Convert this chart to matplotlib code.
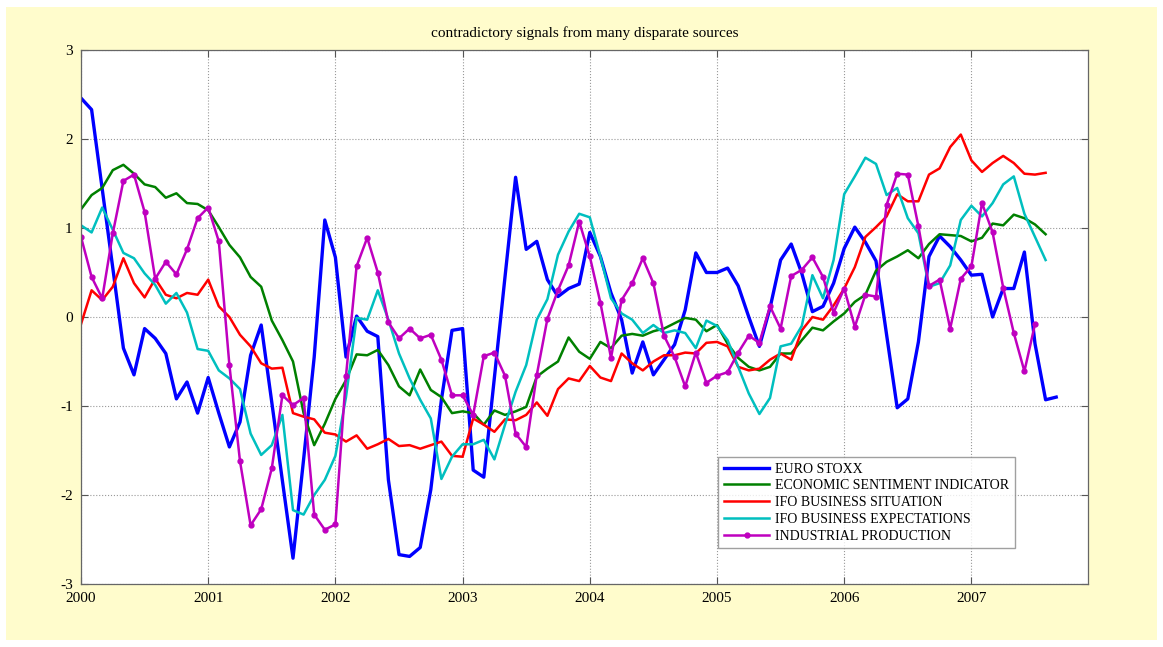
import numpy as np
import matplotlib
matplotlib.use("Agg")
import matplotlib.pyplot as plt
from matplotlib.patches import Rectangle

# monthly observations, Jan 2000 onwards
euro_stoxx = [
    2.46, 2.33, 1.44, 0.55, -0.35, -0.65, -0.13, -0.24, -0.41, -0.92, -0.73, -1.08,
    -0.68, -1.08, -1.46, -1.18, -0.43, -0.09, -0.96, -1.84, -2.71, -1.60, -0.45, 1.09,
    0.67, -0.45, 0.01, -0.16, -0.22, -1.83, -2.67, -2.69, -2.59, -1.94, -0.93, -0.15,
    -0.13, -1.72, -1.80, -0.68, 0.45, 1.57, 0.76, 0.85, 0.42, 0.23, 0.32, 0.37,
    0.95, 0.68, 0.27, -0.03, -0.63, -0.28, -0.65, -0.48, -0.31, 0.08, 0.72, 0.50,
    0.50, 0.55, 0.35, 0.00, -0.33, 0.10, 0.64, 0.82, 0.49, 0.06, 0.12, 0.38,
    0.77, 1.01, 0.84, 0.63, -0.20, -1.02, -0.92, -0.28, 0.68, 0.91, 0.79, 0.64,
    0.47, 0.48, 0.00, 0.32, 0.32, 0.73, -0.30, -0.93, -0.90,
]
sentiment = [
    1.21, 1.37, 1.45, 1.65, 1.71, 1.61, 1.49, 1.46, 1.34, 1.39, 1.28, 1.27,
    1.20, 1.01, 0.81, 0.67, 0.45, 0.34, -0.04, -0.26, -0.50, -1.08, -1.44, -1.20,
    -0.92, -0.71, -0.42, -0.43, -0.37, -0.54, -0.78, -0.88, -0.59, -0.82, -0.90, -1.08,
    -1.06, -1.08, -1.21, -1.05, -1.10, -1.06, -1.01, -0.67, -0.58, -0.50, -0.23, -0.39,
    -0.47, -0.28, -0.35, -0.21, -0.19, -0.21, -0.16, -0.13, -0.07, -0.01, -0.03, -0.16,
    -0.09, -0.30, -0.46, -0.56, -0.60, -0.56, -0.41, -0.41, -0.26, -0.12, -0.15, -0.05,
    0.04, 0.17, 0.25, 0.52, 0.62, 0.68, 0.75, 0.66, 0.82, 0.93, 0.92, 0.91,
    0.85, 0.89, 1.05, 1.03, 1.15, 1.11, 1.04, 0.93,
]
ifo_situation = [
    -0.08, 0.30, 0.19, 0.34, 0.66, 0.38, 0.22, 0.43, 0.25, 0.21, 0.27, 0.25,
    0.42, 0.12, 0.00, -0.20, -0.33, -0.52, -0.58, -0.57, -1.08, -1.12, -1.15, -1.30,
    -1.32, -1.40, -1.33, -1.48, -1.43, -1.37, -1.45, -1.44, -1.48, -1.44, -1.40, -1.56,
    -1.57, -1.14, -1.21, -1.29, -1.15, -1.16, -1.10, -0.96, -1.11, -0.81, -0.69, -0.72,
    -0.55, -0.68, -0.72, -0.41, -0.52, -0.60, -0.50, -0.43, -0.43, -0.40, -0.41, -0.29,
    -0.28, -0.33, -0.56, -0.60, -0.58, -0.48, -0.41, -0.48, -0.15, 0.00, -0.03, 0.13,
    0.32, 0.56, 0.90, 1.01, 1.13, 1.38, 1.30, 1.30, 1.60, 1.67, 1.91, 2.05,
    1.76, 1.63, 1.73, 1.81, 1.73, 1.61, 1.60, 1.62,
]
ifo_expectations = [
    1.03, 0.95, 1.23, 0.98, 0.72, 0.66, 0.49, 0.36, 0.15, 0.27, 0.05, -0.36,
    -0.38, -0.60, -0.69, -0.81, -1.31, -1.55, -1.44, -1.10, -2.17, -2.22, -2.00, -1.83,
    -1.56, -0.90, -0.01, -0.03, 0.30, -0.03, -0.41, -0.69, -0.93, -1.14, -1.82, -1.57,
    -1.43, -1.43, -1.38, -1.60, -1.21, -0.84, -0.54, -0.03, 0.20, 0.70, 0.96, 1.16,
    1.12, 0.68, 0.21, 0.04, -0.03, -0.18, -0.09, -0.18, -0.15, -0.18, -0.35, -0.04,
    -0.10, -0.26, -0.56, -0.86, -1.09, -0.91, -0.33, -0.30, -0.10, 0.47, 0.21, 0.64,
    1.38, 1.58, 1.79, 1.72, 1.37, 1.45, 1.11, 0.94, 0.34, 0.38, 0.58, 1.09,
    1.25, 1.13, 1.28, 1.49, 1.58, 1.16, 0.90, 0.64,
]
industrial_production = [
    0.90, 0.45, 0.21, 0.94, 1.53, 1.60, 1.18, 0.43, 0.62, 0.48, 0.76, 1.11,
    1.23, 0.85, -0.54, -1.62, -2.34, -2.16, -1.70, -0.88, -0.99, -0.91, -2.22, -2.39,
    -2.33, -0.66, 0.57, 0.89, 0.50, -0.06, -0.24, -0.13, -0.24, -0.20, -0.48, -0.88,
    -0.88, -1.10, -0.44, -0.40, -0.66, -1.31, -1.46, -0.65, -0.02, 0.30, 0.58, 1.07,
    0.68, 0.16, -0.46, 0.19, 0.38, 0.66, 0.38, -0.21, -0.45, -0.78, -0.40, -0.74,
    -0.66, -0.62, -0.40, -0.21, -0.29, 0.12, -0.13, 0.46, 0.53, 0.67, 0.45, 0.05,
    0.32, -0.11, 0.25, 0.23, 1.26, 1.61, 1.60, 1.02, 0.35, 0.42, -0.13, 0.43,
    0.57, 1.28, 0.95, 0.33, -0.18, -0.61, -0.08,
]

labels = ["EURO STOXX", "ECONOMIC SENTIMENT INDICATOR", "IFO BUSINESS SITUATION",
          "IFO BUSINESS EXPECTATIONS", "INDUSTRIAL PRODUCTION"]
years = list(range(2000, 2008))


def months(series):
    return 2000 + np.arange(len(series)) / 12.0


serif = ["Liberation Serif", "DejaVu Serif"]
plt.rcParams["font.family"] = serif
plt.rcParams["axes.unicode_minus"] = False

fig = plt.figure(figsize=(11.63, 6.47), dpi=100, facecolor="white")
# yellow panel behind the axes
fig.patches.append(Rectangle((6 / 1163, 1 - 640 / 647), 1151 / 1163, 633 / 647,
                             transform=fig.transFigure, facecolor="#fffccc",
                             edgecolor="none", zorder=-1))

ax = fig.add_axes([81 / 1163, 1 - 584 / 647, 1007 / 1163, 534 / 647])
ax.set_facecolor("white")

ax.plot(months(euro_stoxx), euro_stoxx, color="#0000ff", lw=2.4, label=labels[0])
ax.plot(months(sentiment), sentiment, color="#008000", lw=1.8, label=labels[1])
ax.plot(months(ifo_situation), ifo_situation, color="#ff0000", lw=1.8, label=labels[2])
ax.plot(months(ifo_expectations), ifo_expectations, color="#00bfbf", lw=1.8, label=labels[3])
ax.plot(months(industrial_production), industrial_production, color="#bf00bf", lw=1.8,
        marker="o", ms=3.5, label=labels[4])

ax.set_xlim(2000, 2007 + 11 / 12)
ax.set_ylim(-3, 3)
ax.set_xticks(years)
ax.set_xticklabels([str(y) for y in years])
ax.set_yticks(range(-3, 4))
ax.tick_params(direction="in", top=True, right=True, labelsize=11, length=5,
               color="#555555", pad=6)
ax.grid(True, linestyle=":", color="#999999", linewidth=0.8)
for s in ax.spines.values():
    s.set_color("#666666")
    s.set_linewidth(0.9)

ax.set_title("contradictory signals from many disparate sources", fontsize=11, pad=9)

leg = ax.legend(loc="upper left", bbox_to_anchor=(0.6326, 0.2378), fontsize=10,
                frameon=True, fancybox=False, handlelength=3.3, handletextpad=0.4,
                labelspacing=0.27, borderpad=0.4, borderaxespad=0)
leg.get_frame().set_edgecolor("#888888")
leg.get_frame().set_linewidth(1.0)

plt.savefig("out.png", dpi=100, facecolor=fig.get_facecolor())
